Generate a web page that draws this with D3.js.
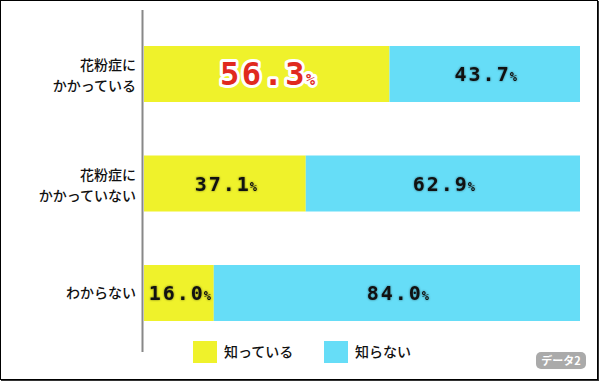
<!DOCTYPE html>
<html><head><meta charset="utf-8">
<script src="https://cdn.jsdelivr.net/npm/d3@7"></script>
<style>
html,body{margin:0;padding:0;background:#fff;}
svg{display:block;}
</style></head>
<body>
<svg id="c" width="600" height="382"></svg>
<script>
const categories = [["花粉症に","かかっている"],["花粉症に","かかっていない"],["わからない"]];
const knowValues = [56.3, 37.1, 16.0];
const dontKnowValues = [43.7, 62.9, 84.0];
const seriesNames = ["知っている","知らない"];
const colors = ["#eff22b","#66ddf7"];

const svg = d3.select("#c");
// frame with shadow
svg.append("rect").attr("x",1).attr("y",1).attr("width",598).attr("height",380).attr("fill","#333");
svg.append("rect").attr("x",0.5).attr("y",0.5).attr("width",597).attr("height",379).attr("fill","#fff").attr("stroke","#000").attr("stroke-width",1);

const x = d3.scaleLinear().domain([0,100]).range([144,580]);
const y = d3.scaleBand().domain(d3.range(categories.length)).range([46,321]).paddingInner(0.4886).paddingOuter(0);

const g = svg.append("g");
categories.forEach((c,i)=>{
  const y0 = y(i), h = y.bandwidth();
  const k = knowValues[i], d = dontKnowValues[i];
  g.append("rect").attr("x",x(0)).attr("y",y0).attr("width",x(k)-x(0)).attr("height",h).attr("fill",colors[0]);
  g.append("rect").attr("x",x(k)).attr("y",y0).attr("width",x(100)-x(k)).attr("height",h).attr("fill",colors[1]);
  // category labels (one text per line)
  const cy = y0 + h/2;
  const n = c.length;
  c.forEach((line,j)=>{
    const by = n===2 ? (j===0 ? cy-3.5 : cy+17) : cy+5;
    g.append("text").attr("x",136).attr("y",by).attr("text-anchor","end")
      .attr("font-family","'Noto Sans CJK JP'").attr("font-weight",500).attr("font-size",14).attr("fill","#111").text(line);
  });
  // value labels
  const addLabel = (val, cx, big) => {
    const fs = big ? 32 : 20;
    const txt = g.append("text").attr("x",cx).attr("y",cy + (big?11:7)).attr("text-anchor","middle")
      .attr("font-family","'DejaVu Sans Mono', monospace").attr("font-weight","bold")
      .attr("font-size",fs).attr("letter-spacing", big?2.5:2);
    txt.append("tspan").text(val.toFixed(1));
    txt.append("tspan").attr("font-size", big?15:12).attr("dx",-1).text("%");
    return txt;
  };
  const cx = (x(0)+x(k))/2 + 2;
  if (i===0){
    addLabel(k, cx, true).attr("fill","#fff").attr("stroke","#fff").attr("stroke-width",6).attr("stroke-linejoin","round");
    addLabel(k, cx, true).attr("fill","#e02a1e");
  } else {
    addLabel(k, cx, false).attr("fill","#111").attr("style","filter:drop-shadow(0 0 1px rgba(0,0,0,0.5))");
  }
  const cx2 = (x(k)+x(100))/2 + 2;
  addLabel(d, cx2, false).attr("fill","#111").attr("style","filter:drop-shadow(0 0 1px rgba(0,0,0,0.5))");
});

// axis line
svg.append("line").attr("x1",142.5).attr("x2",142.5).attr("y1",10).attr("y2",352).attr("stroke","#888").attr("stroke-width",2);

// legend
const legX = [193, 324];
seriesNames.forEach((n,i)=>{
  svg.append("rect").attr("x",legX[i]).attr("y",341).attr("width",24).attr("height",22).attr("fill",colors[i]);
  svg.append("text").attr("x",legX[i]+31).attr("y",357).attr("font-family","'Noto Sans CJK JP'").attr("font-weight",500).attr("font-size",14).attr("fill","#111").text(n);
});

// badge
svg.append("rect").attr("x",536).attr("y",352).attr("width",50).attr("height",17).attr("rx",5).attr("fill","#aaa");
svg.append("text").attr("x",561).attr("y",365).attr("text-anchor","middle").attr("font-family","'Noto Sans CJK JP'").attr("font-weight","bold").attr("font-size",11).attr("fill","#fff").text("データ2");
</script>
</body></html>
